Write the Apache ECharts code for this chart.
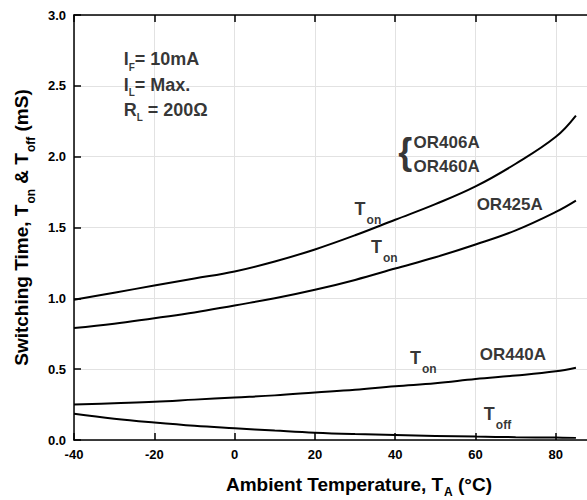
<!DOCTYPE html>
<html><head><meta charset="utf-8">
<script src="https://cdn.jsdelivr.net/npm/echarts@6/dist/echarts.min.js"></script>
<style>html,body{margin:0;padding:0;background:#fff}#c{width:587px;height:500px}</style>
</head><body><div id="c"></div>
<script>
// ---- data ----
const temps      = [-40, -30, -20, -10, 0, 10, 20, 30, 40, 50, 60, 70, 80, 85];
const tonOR406A  = [0.99, 1.04, 1.09, 1.14, 1.19, 1.26, 1.345, 1.445, 1.555, 1.665, 1.79, 1.95, 2.14, 2.29];
const tonOR425A  = [0.79, 0.82, 0.86, 0.90, 0.95, 1.00, 1.06, 1.13, 1.21, 1.29, 1.38, 1.48, 1.61, 1.69];
const tonOR440A  = [0.25, 0.26, 0.27, 0.285, 0.30, 0.315, 0.335, 0.355, 0.38, 0.40, 0.43, 0.455, 0.485, 0.51];
const toffOR440A = [0.185, 0.15, 0.123, 0.10, 0.083, 0.067, 0.052, 0.042, 0.035, 0.029, 0.024, 0.02, 0.017, 0.015];

// annotation texts (rich) and their anchor points in data coordinates
const annText = [
  '{c|I}{cs|F}{c|= 10mA}',
  '{c|I}{cs|L}{c|= Max.}',
  '{c|R}{cs|L}{c| = 200Ω}',
  '{o|OR406A}',
  '{o|OR460A}',
  '{br|{}',
  '{o|OR425A}',
  '{m|T}{s|on}',
  '{m|T}{s|on}',
  '{m|T}{s|on}',
  '{o|OR440A}',
  '{m|T}{s|off}'
];
const annX = [-27.5, -27.5, -27.5, 44.7, 44.7, 42.6, 60.4, 30.0, 34.1, 43.8, 61.2, 62.2];
const annY = [2.746, 2.569, 2.392, 2.153, 1.988, 2.03, 1.718, 1.692, 1.42, 0.64, 0.661, 0.243];
const annAlign  = ['left','left','left','left','left','center','left','left','left','left','left','left'];
const annVAlign = ['top','top','top','top','top','middle','top','top','top','top','top','top'];

// ---- styling ----
const FONT = '"Liberation Sans", Arial, Helvetica, sans-serif';
const black = '#000';
const lineSt = {color: black, width: 1.5};
const gridSt = {color: '#e2e2e2', width: 1};
const tok = (fs, lh, extra) => Object.assign({fontSize: fs, fontWeight: 'bold', fontFamily: FONT, color: black, lineHeight: lh, verticalAlign: 'top'}, extra || {});
const annRich = {
  m: tok(18, 20),
  s: tok(12, 13, {padding: [14, 0, 0, 1]}),
  c: tok(18, 20),
  cs: tok(10, 11, {padding: [12, 0, 0, 0]}),
  o: tok(17, 19),
  br: {fontSize: 36, fontWeight: 'bold', fontFamily: FONT, color: black, lineHeight: 38}
};
const yNameRich = {
  n: tok(19, 21),
  ns: tok(12, 13, {padding: [13, 0, 0, 1]})
};
const xNameRich = {
  n: tok(19, 21),
  ns: tok(12, 13, {padding: [11, 0, 0, 1]})
};

const mk = (arr) => temps.map((t, i) => [t, arr[i]]);
const curve = (name, arr) => ({
  name, type: 'line', data: mk(arr), smooth: 0.4, symbol: 'none',
  lineStyle: {color: black, width: 2}, silent: true, z: 5
});

const option = {
  animation: false,
  backgroundColor: '#fff',
  grid: {left: 74, top: 15, width: 522, height: 425, containLabel: false, outerBoundsMode: 'none'},
  xAxis: [
    {
      type: 'value', min: -40, max: 90, interval: 20, position: 'bottom',
      axisLine: {show: true, onZero: false, lineStyle: lineSt},
      axisTick: {show: true, inside: true, length: 7, lineStyle: lineSt},
      splitLine: {show: true, lineStyle: gridSt},
      axisLabel: {show: true, margin: 8, color: black, fontSize: 13, fontWeight: 'bold', fontFamily: FONT, showMaxLabel: false, formatter: v => String(v)},
      name: '{n|Ambient Temperature, T}{ns|A}{n| (°C)}',
      nameLocation: 'middle', nameGap: 35,
      nameTextStyle: {rich: xNameRich, fontSize: 19, fontWeight: 'bold', fontFamily: FONT, color: black, padding: [0, 0, 0, 48]}
    },
    {
      type: 'value', min: -40, max: 90, interval: 20, position: 'top',
      axisLine: {show: true, onZero: false, lineStyle: lineSt},
      axisTick: {show: true, inside: true, length: 7, lineStyle: lineSt},
      splitLine: {show: false}, axisLabel: {show: false}
    }
  ],
  yAxis: [
    {
      type: 'value', min: 0, max: 3, interval: 0.5, position: 'left',
      axisLine: {show: true, onZero: false, lineStyle: lineSt},
      axisTick: {show: true, inside: true, length: 7, lineStyle: lineSt},
      splitLine: {show: true, lineStyle: gridSt},
      axisLabel: {show: true, margin: 8, color: black, fontSize: 13, fontWeight: 'bold', fontFamily: FONT, formatter: v => v.toFixed(1)},
      name: '{n|Switching Time, T}{ns|on}{n| & T}{ns|off}{n| (mS)}',
      nameLocation: 'middle', nameGap: 35,
      nameTextStyle: {rich: yNameRich, fontSize: 19, fontWeight: 'bold', fontFamily: FONT, color: black}
    },
    {
      type: 'value', min: 0, max: 3, interval: 0.5, position: 'right',
      axisLine: {show: true, onZero: false, lineStyle: lineSt},
      axisTick: {show: true, inside: true, length: 7, lineStyle: lineSt},
      splitLine: {show: false}, axisLabel: {show: false}
    }
  ],
  series: [
    curve('Ton OR406A/OR460A', tonOR406A),
    curve('Ton OR425A', tonOR425A),
    curve('Ton OR440A', tonOR440A),
    curve('Toff OR440A', toffOR440A),
    {
      name: 'annotations', type: 'scatter', silent: true, z: 10,
      symbolSize: 1, itemStyle: {color: 'rgba(0,0,0,0)'},
      label: {show: true, position: [0, 0], rich: annRich, fontWeight: 'bold', fontFamily: FONT, color: black},
      data: annX.map((x, i) => ({
        value: [x, annY[i]],
        label: {formatter: () => annText[i], align: annAlign[i], verticalAlign: annVAlign[i]}
      }))
    }
  ]
};

const chart = echarts.init(document.getElementById('c'), null, {renderer: 'svg', width: 587, height: 500});
chart.setOption(option);
</script>
</body></html>
